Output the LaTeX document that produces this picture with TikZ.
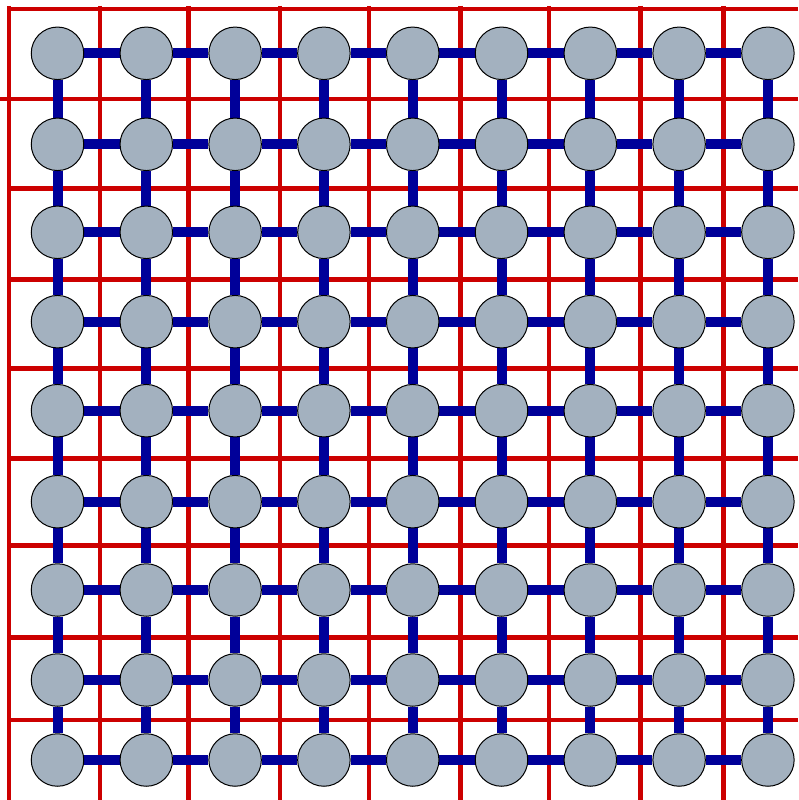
\documentclass[tikz,border=0pt]{standalone}
\definecolor{gridred}{HTML}{CC0000}
\definecolor{linkblue}{HTML}{000099}
\definecolor{nodegray}{HTML}{A3B1BF}
\pgfdeclarelayer{gridlayer}
\pgfdeclarelayer{linklayer}
\pgfsetlayers{gridlayer,linklayer,main}
\tikzset{
  site/.style={circle, draw=black, line width=1pt, fill=nodegray, minimum size=52.5pt, inner sep=0pt},
  link/.style={draw=linkblue, line width=10pt},
  redline/.style={draw=gridred, line width=4.5pt}
}
\begin{document}
\begin{tikzpicture}[x=1pt,y=-1pt]
\useasboundingbox (0,0) rectangle (798,800);
% sites
\foreach \y [count=\r] in {53.3,144.3,232.3,321.7,410.7,501.7,590,680,760}
  \foreach \x [count=\c] in {57.5,146.3,235.1,323.9,412.7,501.5,590.3,679.1,767.9}
    \node[site] (n-\r-\c) at (\x,\y) {};
% red grid
\begin{pgfonlayer}{gridlayer}
\foreach \x in {9,100,188.3,280,369,460.3,549,640.3,723.7}
  \draw[redline] (\x,6) -- (\x,800);
\draw[redline] (7,9) -- (798,9);
\draw[redline] (0,99) -- (798,99);
\foreach \y in {188.3,279.3,368.3,458.3,545.7,637.3,720}
  \draw[redline] (7,\y) -- (798,\y);
\end{pgfonlayer}
% links
\begin{pgfonlayer}{linklayer}
\foreach \r in {1,...,9}{
  \foreach \c in {1,...,8}{
    \pgfmathtruncatemacro{\d}{\c+1}
    \draw[link] (n-\r-\c) -- (n-\r-\d);
  }
}
\foreach \c in {1,...,9}{
  \foreach \r in {1,...,8}{
    \pgfmathtruncatemacro{\s}{\r+1}
    \draw[link] (n-\r-\c) -- (n-\s-\c);
  }
}
\end{pgfonlayer}
\end{tikzpicture}
\end{document}
